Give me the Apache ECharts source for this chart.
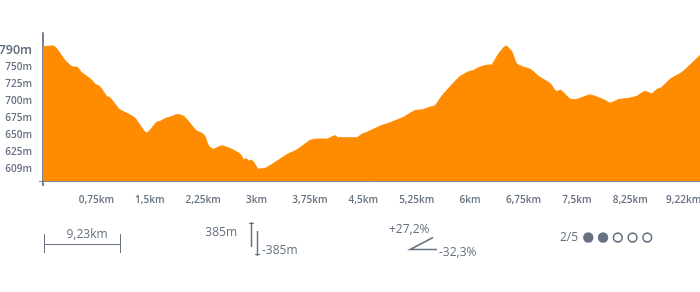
<!DOCTYPE html>
<html>
<head>
<meta charset="utf-8">
<script src="https://cdn.jsdelivr.net/npm/echarts@6/dist/echarts.min.js"></script>
<style>
html,body{margin:0;padding:0;background:#fff;overflow:hidden;width:700px;height:292px;}
#c{position:absolute;left:0;top:0;width:700px;height:292px;}
</style>
</head>
<body>
<div id="c"></div>
<script>
// distance along route (km)
const distKm = [0.00,0.145,0.309,0.426,0.473,0.544,0.684,0.731,0.801,0.895,0.941,1.082,1.198,1.292,1.457,1.597,1.644,1.714,1.831,1.878,1.949,1.995,2.159,2.230,2.276,2.322,2.393,2.511,2.651,2.768,2.824,2.862,2.884,2.932,2.978,3.024,3.119,3.235,3.424,3.564,3.657,3.751,3.845,3.986,4.102,4.149,4.407,4.477,4.594,4.734,4.875,5.062,5.226,5.320,5.437,5.507,5.601,5.718,5.858,5.975,6.045,6.116,6.256,6.294,6.397,6.505,6.585,6.655,6.748,6.842,6.982,7.123,7.217,7.263,7.404,7.474,7.568,7.685,7.755,7.895,7.966,8.082,8.223,8.341,8.457,8.552,8.622,8.692,8.809,8.973,9.090,9.220,9.230];
// elevation (m)
const elevM = [789,790,769,759,759,751,740,734,730,716,714,696,690,684,662,678,679,683,687,689,688,685,665,662,657,644,638,643,638,631,623,624,621,622,616,609,610,617,630,637,644,651,653,653,658,655,655,660,665,672,677,685,695,696,700,702,716,730,745,752,754,758,762,762,778,790,782,764,759,756,744,735,723,725,712,711,714,718,716,710,706,711,713,716,723,720,726,729,741,751,762,775,776];
const xTickLabels = ['', '0,75km', '1,5km', '2,25km', '3km', '3,75km', '4,5km', '5,25km', '6km', '6,75km', '7,5km', '8,25km', '9,22km'];
const yTickLabels = ['609m', '625m', '650m', '675m', '700m', '725m', '750m', '790m'];
const statDistance = '9,23km';
const statAscent = '385m';
const statDescent = '-385m';
const statMaxUp = '+27,2%';
const statMaxDown = '-32,3%';
const pageText = '2/5';
const pageCurrent = 2;
const pageTotal = 5;

const TXT = '#667181';
const AX = '#7a8494';
const FONT = '"Open Sans", "Noto Sans", sans-serif';

const chart = echarts.init(document.getElementById('c'), null, {renderer: 'canvas', width: 700, height: 292});

const seriesData = distKm.map((d, i) => [d, elevM[i]]);

const graphics = [];
// axis corner extensions
graphics.push({type: 'line', shape: {x1: 39, y1: 181.5, x2: 44, y2: 181.5}, style: {stroke: AX, lineWidth: 1}, z: 10});
graphics.push({type: 'line', shape: {x1: 43, y1: 180, x2: 43, y2: 186}, style: {stroke: AX, lineWidth: 2}, z: 10});
// distance bracket
graphics.push({type: 'line', shape: {x1: 44.5, y1: 234, x2: 44.5, y2: 253}, style: {stroke: TXT, lineWidth: 1}});
graphics.push({type: 'line', shape: {x1: 120.5, y1: 234, x2: 120.5, y2: 253}, style: {stroke: TXT, lineWidth: 1}});
graphics.push({type: 'line', shape: {x1: 44.5, y1: 244.5, x2: 120.5, y2: 244.5}, style: {stroke: TXT, lineWidth: 1}});
graphics.push({type: 'text', x: 87, y: 235, style: {text: statDistance, fill: TXT, font: '12px ' + FONT, textAlign: 'center', textVerticalAlign: 'middle'}});
// ascent / descent
graphics.push({type: 'text', x: 237, y: 233, style: {text: statAscent, fill: TXT, font: '12px ' + FONT, textAlign: 'right', textVerticalAlign: 'middle'}});
graphics.push({type: 'line', shape: {x1: 251.5, y1: 222, x2: 251.5, y2: 247}, style: {stroke: TXT, lineWidth: 1.5}});
graphics.push({type: 'line', shape: {x1: 249, y1: 223.5, x2: 254, y2: 223.5}, style: {stroke: TXT, lineWidth: 1}});
graphics.push({type: 'line', shape: {x1: 257.5, y1: 231, x2: 257.5, y2: 256}, style: {stroke: TXT, lineWidth: 1.5}});
graphics.push({type: 'line', shape: {x1: 255, y1: 254.5, x2: 260, y2: 254.5}, style: {stroke: TXT, lineWidth: 1}});
graphics.push({type: 'text', x: 262, y: 251, style: {text: statDescent, fill: TXT, font: '12px ' + FONT, textAlign: 'left', textVerticalAlign: 'middle'}});
// slopes
graphics.push({type: 'text', x: 389, y: 230, style: {text: statMaxUp, fill: TXT, font: '12px ' + FONT, textAlign: 'left', textVerticalAlign: 'middle'}});
graphics.push({type: 'polyline', shape: {points: [[433, 237.5], [410, 249.5], [437, 249.5]]}, style: {stroke: TXT, lineWidth: 1.5, fill: null}});
graphics.push({type: 'text', x: 439, y: 252.5, style: {text: statMaxDown, fill: TXT, font: '12px ' + FONT, textAlign: 'left', textVerticalAlign: 'middle'}});
// pager
graphics.push({type: 'text', x: 578, y: 237.5, style: {text: pageText, fill: TXT, font: '12px ' + FONT, textAlign: 'right', textVerticalAlign: 'middle'}});
for (let i = 0; i < pageTotal; i++) {
  const cx = 588.3 + i * 14.75;
  if (i < pageCurrent) {
    graphics.push({type: 'circle', shape: {cx: cx, cy: 237.5, r: 5.2}, style: {fill: TXT}});
  } else {
    graphics.push({type: 'circle', shape: {cx: cx, cy: 237.5, r: 4.4}, style: {fill: '#fff', stroke: TXT, lineWidth: 1.6}});
  }
}

const option = {
  animation: false,
  textStyle: {fontFamily: FONT},
  grid: [
    {left: 43, right: 0, top: 33, bottom: 111, containLabel: false, outerBoundsMode: 'none'},
    {left: 43, right: 0, top: 50.3, height: 119, containLabel: false, outerBoundsMode: 'none'}
  ],
  xAxis: [
    {
      type: 'value', gridIndex: 0, min: 0, max: 9.23, interval: 0.75,
      axisLine: {show: true, lineStyle: {color: AX, width: 1}},
      axisTick: {show: false},
      splitLine: {show: false},
      axisLabel: {
        show: true, margin: 14, fontSize: 10, fontWeight: 600, color: TXT, fontFamily: FONT,
        showMinLabel: false, showMaxLabel: false,
        formatter: v => xTickLabels[Math.round(v / 0.75)] || ''
      }
    },
    {type: 'value', gridIndex: 1, show: false, min: 0, max: 1}
  ],
  yAxis: [
    {
      type: 'value', gridIndex: 0, min: 591.3, max: 809.1,
      axisLine: {show: true, lineStyle: {color: AX, width: 2}},
      axisTick: {show: false},
      axisLabel: {show: false},
      splitLine: {show: false}
    },
    {
      type: 'value', gridIndex: 1, min: 0, max: 7, interval: 1,
      axisLine: {show: false}, axisTick: {show: false}, splitLine: {show: false},
      axisLabel: {
        show: true, margin: 11, color: TXT, fontFamily: FONT,
        formatter: v => {
          const s = yTickLabels[Math.round(v)] || '';
          return Math.round(v) === yTickLabels.length - 1 ? '{big|' + s + '}' : '{sm|' + s + '}';
        },
        rich: {
          big: {fontSize: 12.5, fontWeight: 600, color: '#5d6879', fontFamily: FONT},
          sm: {fontSize: 10, fontWeight: 600, color: TXT, fontFamily: FONT}
        }
      }
    }
  ],
  series: [{
    type: 'line',
    xAxisIndex: 0, yAxisIndex: 0,
    data: seriesData,
    symbol: 'none',
    smooth: 0.2,
    lineStyle: {color: '#ff8c00', width: 1},
    itemStyle: {color: '#ff8c00'},
    areaStyle: {color: '#ff8c00', opacity: 1, origin: 'start'},
    z: 2
  }],
  graphic: graphics
};
chart.setOption(option);
</script>
</body>
</html>
